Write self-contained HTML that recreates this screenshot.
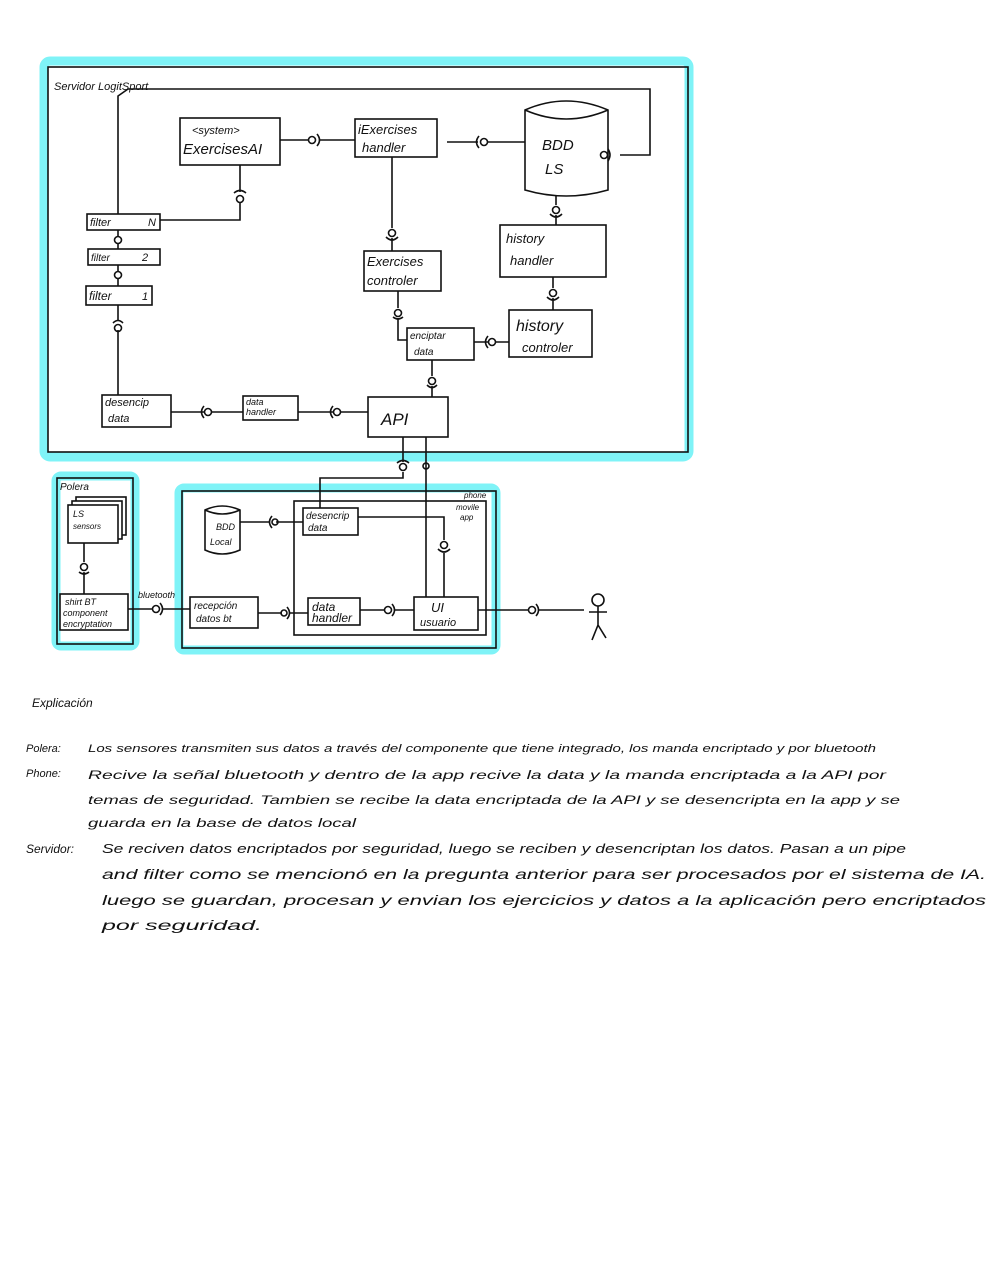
<!DOCTYPE html>
<html><head><meta charset="utf-8"><style>
body{margin:0;background:#fff}
svg{display:block}
text{font-family:"Liberation Sans",sans-serif;fill:#111}
.h{font-style:italic}
</style></head><body>
<svg width="991" height="1280" viewBox="0 0 991 1280" xmlns="http://www.w3.org/2000/svg">
<g fill="none" stroke="#7ff3f7" stroke-width="9" stroke-linejoin="round">
<rect x="44" y="61" width="645" height="396" rx="6"/>
<rect x="56" y="476" width="79" height="170" rx="5"/>
<rect x="179" y="488" width="317" height="162" rx="5"/>
</g>
<g fill="none" stroke="#111" stroke-width="1.6">
<rect x="48" y="67" width="640" height="385"/>
<rect x="57" y="478" width="76" height="166"/>
<rect x="182" y="491" width="314" height="157"/>
<rect x="294" y="501" width="192" height="134"/>
<!-- server boxes -->
<rect x="180" y="118" width="100" height="47"/>
<rect x="355" y="119" width="82" height="38"/>
<rect x="500" y="225" width="106" height="52"/>
<rect x="509" y="310" width="83" height="47"/>
<rect x="407" y="328" width="67" height="32"/>
<rect x="364" y="251" width="77" height="40"/>
<rect x="368" y="397" width="80" height="40"/>
<rect x="243" y="396" width="55" height="24"/>
<rect x="102" y="395" width="69" height="32"/>
<rect x="87" y="214" width="73" height="16"/>
<rect x="88" y="249" width="72" height="16"/>
<rect x="86" y="286" width="66" height="19"/>
<!-- BDD LS -->
<path d="M525 110 Q566 92 608 110 L608 190 Q566 202 525 190 Z M525 110 Q566 128 608 110"/>
<!-- lines server -->
<path d="M118 214 V96 L128 89 H650 V155 H620"/>
<path d="M280 140 H308 M320 140 H355"/>
<path d="M447 142 H478 M487 142 H525"/>
<path d="M240 165 V192 M240 202 V220 H160"/>
<path d="M556 195 V205 M556 215 V225"/>
<path d="M553 277 V288 M553 298 V310"/>
<path d="M474 342 H488 M496 342 H509"/>
<path d="M392 157 V228 M392 238 V251"/>
<path d="M398 291 V308 M398 318 V340 H407"/>
<path d="M432 360 V376 M432 386 V397"/>
<path d="M298 412 H334 M340 412 H368"/>
<path d="M171 412 H205 M211 412 H243"/>
<path d="M118 230 V237 M118 244 V249 M118 265 V272 M118 279 V286"/>
<path d="M118 305 V320 M118 330 V395"/>
<!-- sockets/balls -->
<circle cx="312" cy="140" r="3.5"/><path d="M317 134 Q322 140 317 146"/>
<circle cx="484" cy="142" r="3.5"/><path d="M479 136 Q474 142 479 148"/>
<circle cx="604" cy="155" r="3.5"/><path d="M608 149 Q612 155 608 161"/>
<circle cx="240" cy="199" r="3.5"/><path d="M234 193 Q240 188 246 193"/>
<circle cx="556" cy="210" r="3.5"/><path d="M550 214 Q556 220 562 214"/>
<circle cx="553" cy="293" r="3.5"/><path d="M547 297 Q553 303 559 297"/>
<circle cx="492" cy="342" r="3.5"/><path d="M488 336 Q483 342 488 348"/>
<circle cx="392" cy="233" r="3.5"/><path d="M386 237 Q392 243 398 237"/>
<circle cx="398" cy="313" r="3.5"/><path d="M393 317 Q398 321 403 317"/>
<circle cx="432" cy="381" r="3.5"/><path d="M427 385 Q432 390 437 385"/>
<circle cx="337" cy="412" r="3.5"/><path d="M333 406 Q328 412 333 418"/>
<circle cx="208" cy="412" r="3.5"/><path d="M204 406 Q199 412 204 418"/>
<circle cx="118" cy="240" r="3.5"/><circle cx="118" cy="275" r="3.5"/>
<circle cx="118" cy="328" r="3.5"/><path d="M113 323 Q118 318 123 323"/>
<!-- lower -->
<rect x="76" y="497" width="50" height="38"/>
<rect x="72" y="501" width="50" height="38" fill="#fff"/>
<rect x="68" y="505" width="50" height="38" fill="#fff"/>
<rect x="60" y="594" width="68" height="36"/>
<path d="M205 510 Q222 502 240 510 L240 550 Q222 558 205 550 Z M205 510 Q222 518 240 510"/>
<rect x="303" y="508" width="55" height="27"/>
<rect x="190" y="597" width="68" height="31"/>
<rect x="308" y="598" width="52" height="27"/>
<rect x="414" y="597" width="64" height="33"/>
<path d="M84 543 V562 M84 572 V594"/>
<circle cx="84" cy="567" r="3.5"/><path d="M79 572 Q84 576 89 572"/>
<path d="M128 609 H153 M163 609 H190"/><circle cx="156" cy="609" r="3.5"/><path d="M160 603 Q165 609 160 615"/>
<path d="M258 613 H282 M290 613 H308"/><circle cx="284" cy="613" r="3"/><path d="M287 607 Q292 613 287 619"/>
<path d="M360 610 H384 M394 610 H414"/><circle cx="388" cy="610" r="3.5"/><path d="M392 604 Q397 610 392 616"/>
<path d="M478 610 H528 M538 610 H584"/><circle cx="532" cy="610" r="3.5"/><path d="M536 604 Q541 610 536 616"/>
<path d="M240 522 H270 M276 522 H303"/><circle cx="275" cy="522" r="3"/><path d="M272 516 Q267 522 272 528"/>
<path d="M403 437 V462 M403 472 V478 H320 V508"/><circle cx="403" cy="467" r="3.5"/><path d="M397 463 Q403 458 409 463"/>
<path d="M426 437 V597"/><circle cx="426" cy="466" r="3"/>
<path d="M358 517 H444 V540 M444 553 V597"/><circle cx="444" cy="545" r="3.5"/><path d="M438 549 Q444 555 450 549"/>
<circle cx="598" cy="600" r="6"/><path d="M598 606 V625 L592 640 M598 625 L606 638 M589 612 H607"/>
</g>
<g class="h">
<text x="54" y="90" font-size="11">Servidor LogitSport</text>
<text x="192" y="134" font-size="11">&lt;system&gt;</text>
<text x="183" y="154" font-size="15">ExercisesAI</text>
<text x="358" y="134" font-size="13">iExercises</text>
<text x="362" y="152" font-size="13">handler</text>
<text x="542" y="150" font-size="15">BDD</text>
<text x="545" y="174" font-size="15">LS</text>
<text x="506" y="243" font-size="13">history</text>
<text x="510" y="265" font-size="13">handler</text>
<text x="516" y="331" font-size="16">history</text>
<text x="522" y="352" font-size="13">controler</text>
<text x="410" y="339" font-size="10">enciptar</text>
<text x="414" y="355" font-size="10">data</text>
<text x="367" y="266" font-size="13">Exercises</text>
<text x="367" y="285" font-size="13">controler</text>
<text x="381" y="425" font-size="17">API</text>
<text x="246" y="405" font-size="9">data</text>
<text x="246" y="415" font-size="9">handler</text>
<text x="105" y="406" font-size="11">desencip</text>
<text x="108" y="422" font-size="11">data</text>
<text x="90" y="226" font-size="11">filter</text><text x="148" y="226" font-size="11">N</text>
<text x="91" y="261" font-size="10">filter</text><text x="142" y="261" font-size="11">2</text>
<text x="89" y="300" font-size="12">filter</text><text x="142" y="300" font-size="11">1</text>
<text x="60" y="490" font-size="10">Polera</text>
<text x="73" y="517" font-size="9">LS</text>
<text x="73" y="529" font-size="8">sensors</text>
<text x="65" y="605" font-size="9">shirt BT</text>
<text x="63" y="616" font-size="9">component</text>
<text x="63" y="627" font-size="9">encryptation</text>
<text x="138" y="598" font-size="9">bluetooth</text>
<text x="216" y="530" font-size="9">BDD</text>
<text x="210" y="545" font-size="9">Local</text>
<text x="306" y="519" font-size="10">desencrip</text>
<text x="308" y="531" font-size="10">data</text>
<text x="194" y="609" font-size="10">recepción</text>
<text x="196" y="622" font-size="10">datos bt</text>
<text x="312" y="611" font-size="12">data</text>
<text x="312" y="622" font-size="12">handler</text>
<text x="431" y="612" font-size="13">UI</text>
<text x="420" y="626" font-size="11">usuario</text>
<text x="464" y="498" font-size="8">phone</text>
<text x="456" y="510" font-size="8">movile</text>
<text x="460" y="520" font-size="8">app</text>
<text x="32" y="707" font-size="12">Explicación</text>
<text x="26" y="752" font-size="11">Polera:</text>
<text x="88" y="752" font-size="11" textLength="788" lengthAdjust="spacingAndGlyphs">Los sensores transmiten sus datos a través del componente que tiene integrado, los manda encriptado y por bluetooth</text>
<text x="26" y="777" font-size="11">Phone:</text>
<text x="88" y="779" font-size="12" textLength="798" lengthAdjust="spacingAndGlyphs">Recive la señal bluetooth y dentro de la app recive la data y la manda encriptada a la API por</text>
<text x="88" y="804" font-size="12" textLength="812" lengthAdjust="spacingAndGlyphs">temas de seguridad. Tambien se recibe la data encriptada de la API y se desencripta en la app y se</text>
<text x="88" y="827" font-size="12" textLength="268" lengthAdjust="spacingAndGlyphs">guarda en la base de datos local</text>
<text x="26" y="853" font-size="12">Servidor:</text>
<text x="102" y="853" font-size="13" textLength="804" lengthAdjust="spacingAndGlyphs">Se reciven datos encriptados por seguridad, luego se reciben y desencriptan los datos. Pasan a un pipe</text>
<text x="102" y="879" font-size="14" textLength="884" lengthAdjust="spacingAndGlyphs">and filter como se mencionó en la pregunta anterior para ser procesados por el sistema de IA.</text>
<text x="102" y="905" font-size="14" textLength="884" lengthAdjust="spacingAndGlyphs">luego se guardan, procesan y envian los ejercicios y datos a la aplicación pero encriptados</text>
<text x="102" y="930" font-size="14" textLength="160" lengthAdjust="spacingAndGlyphs">por  seguridad.</text>
</g>
</svg>
</body></html>
